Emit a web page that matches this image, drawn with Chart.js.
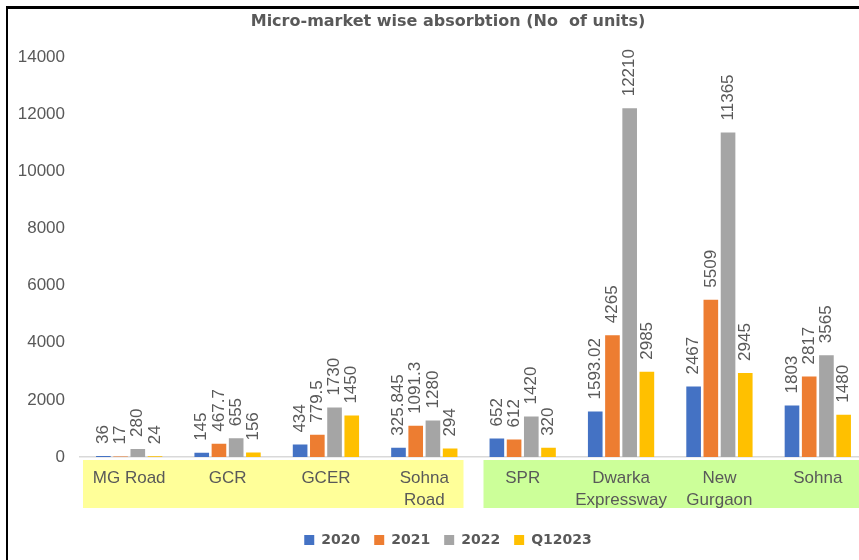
<!DOCTYPE html>
<html>
<head>
<meta charset="utf-8">
<script src="https://cdn.jsdelivr.net/npm/chart.js@4"></script>
<style>
  html, body { margin: 0; padding: 0; background: #fff; overflow: hidden; }
  #wrap { position: relative; width: 859px; height: 560px; overflow: hidden; }
  #absorption { position: absolute; left: 0; top: 0; }
  #frame { position: absolute; left: 6px; top: 6px; width: 900px; height: 570px;
           border-left: 2px solid #000; border-top: 3px solid #000; pointer-events: none; }
</style>
</head>
<body>
<div id="wrap">
  <canvas id="absorption" width="896" height="560" style="width:896px;height:560px"></canvas>
  <div id="frame"></div>
</div>
<script>
// micro-markets
var markets = ['MG Road', 'GCR', 'GCER', ['Sohna', 'Road'], 'SPR', ['Dwarka', 'Expressway'], ['New', 'Gurgaon'], 'Sohna'];

// absorption per year (no of units)
var units2020 = [36, 145, 434, 325.845, 652, 1593.02, 2467, 1803];
var units2021 = [17, 467.7, 779.5, 1091.3, 612, 4265, 5509, 2817];
var units2022 = [280, 655, 1730, 1280, 1420, 12210, 11365, 3565];
var unitsQ12023 = [24, 156, 1450, 294, 320, 2985, 2945, 1480];

var seriesNames = ['2020', '2021', '2022', 'Q12023'];
var yTicks = [0, 2000, 4000, 6000, 8000, 10000, 12000, 14000];

var grey = '#595959';
var font = 'Liberation Sans, Arial, sans-serif';
var boldFont = 'DejaVu Sans, sans-serif';

// yellow / green bands behind the category labels
var bandPlugin = {
  id: 'bands',
  beforeDraw: function(chart) {
    var x = chart.scales.x;
    var area = chart.chartArea;
    var ctx = chart.ctx;
    var step = x.getPixelForValue(1) - x.getPixelForValue(0);
    var left = x.getPixelForValue(0) - step / 2;
    var mid = x.getPixelForValue(3) + step / 2;
    var right = x.getPixelForValue(7) + step / 2;
    ctx.save();
    ctx.fillStyle = '#FFFF99';
    ctx.fillRect(left + 3, area.bottom + 3, mid - 10 - (left + 3), 48);
    ctx.fillStyle = '#CCFF99';
    ctx.fillRect(mid + 10, area.bottom + 3, right - (mid + 10), 48);
    ctx.restore();
  }
};

// rotated value labels above each bar
var valuePlugin = {
  id: 'values',
  afterDatasetsDraw: function(chart) {
    var ctx = chart.ctx;
    ctx.save();
    ctx.fillStyle = grey;
    ctx.font = '17px ' + font;
    ctx.textAlign = 'left';
    ctx.textBaseline = 'middle';
    chart.data.datasets.forEach(function(ds, i) {
      chart.getDatasetMeta(i).data.forEach(function(bar, j) {
        ctx.save();
        ctx.translate(bar.x, bar.y - 12);
        ctx.rotate(-Math.PI / 2);
        ctx.fillText(String(ds.data[j]), 0, 0);
        ctx.restore();
      });
    });
    ctx.restore();
  }
};

var ctx = document.getElementById('absorption').getContext('2d');
var chart = new Chart(ctx, {
  type: 'bar',
  data: {
    labels: markets,
    datasets: [
      { label: seriesNames[0], data: units2020, backgroundColor: '#4472C4' },
      { label: seriesNames[1], data: units2021, backgroundColor: '#ED7D31' },
      { label: seriesNames[2], data: units2022, backgroundColor: '#A5A5A5' },
      { label: seriesNames[3], data: unitsQ12023, backgroundColor: '#FFC000' }
    ]
  },
  options: {
    responsive: false,
    animation: false,
    layout: { padding: { left: 0, right: 0, top: 0, bottom: 3 } },
    datasets: {
      bar: { categoryPercentage: 0.7, barPercentage: 0.85 }
    },
    plugins: {
      title: {
        display: true,
        text: 'Micro-market wise absorbtion (No  of units)',
        color: grey,
        font: { family: boldFont, size: 16, weight: 'bold' },
        padding: { top: 12, bottom: 26 }
      },
      legend: {
        position: 'bottom',
        labels: {
          color: grey,
          boxWidth: 10,
          boxHeight: 10,
          padding: 14,
          font: { family: boldFont, size: 14, weight: 'bold' }
        }
      },
      tooltip: { enabled: false }
    },
    scales: {
      x: {
        afterFit: function(scale) { scale.height = 62; },
        grid: { display: false, drawTicks: false },
        border: { display: true, color: '#D9D9D9', width: 1.5 },
        ticks: {
          color: grey,
          padding: 11,
          maxRotation: 0,
          autoSkip: false,
          font: { family: font, size: 17, lineHeight: 1.25 }
        }
      },
      y: {
        min: 0,
        max: 14000,
        afterFit: function(scale) { scale.width = 80; },
        afterBuildTicks: function(scale) {
          scale.ticks = yTicks.map(function(v) { return { value: v }; });
        },
        grid: { display: false, drawTicks: false },
        border: { display: false },
        ticks: {
          color: grey,
          padding: 15,
          font: { family: font, size: 17 },
          callback: function(value) { return String(value); }
        }
      },
      // empty space on the right (the original chart runs past the crop)
      spacer: {
        type: 'linear',
        position: 'right',
        afterFit: function(scale) { scale.width = 29; },
        grid: { display: false, drawTicks: false },
        border: { display: false },
        ticks: { display: false }
      }
    }
  },
  plugins: [bandPlugin, valuePlugin]
});
</script>
</body>
</html>
